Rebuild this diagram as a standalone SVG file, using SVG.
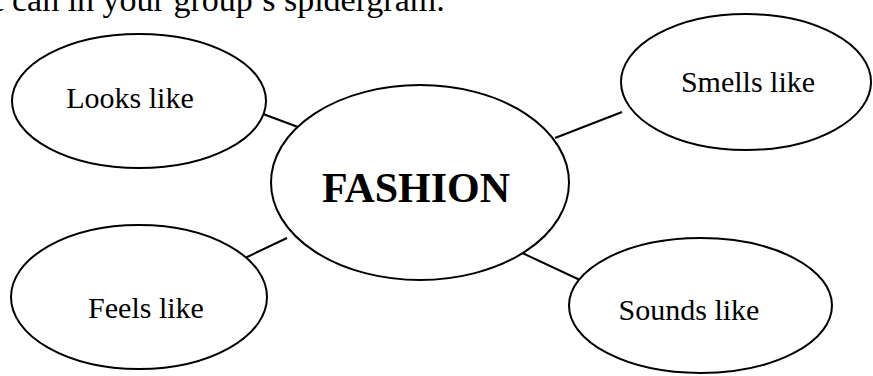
<svg xmlns="http://www.w3.org/2000/svg" width="873" height="376" viewBox="0 0 873 376">
<style>
.node ellipse{fill:#fff;stroke:#000;stroke-width:2}
.lbl{font-family:"Liberation Serif","Times New Roman",serif;font-size:30px;fill:#000;text-anchor:middle}
.big{font-family:"Liberation Serif","Times New Roman",serif;font-size:42px;font-weight:bold;fill:#000;text-anchor:middle}
.top{font-family:"Liberation Serif","Times New Roman",serif;font-size:34px;fill:#000}
#connectors line{stroke:#000;stroke-width:2}
</style>
<rect width="873" height="376" fill="#fff"/>
<text class="top" x="-6" y="11">t can in your group’s spidergram.</text>
<g id="connectors">
<line x1="255" y1="111" x2="298" y2="127"/>
<line x1="555" y1="138" x2="622" y2="112"/>
<line x1="245" y1="258" x2="287" y2="238"/>
<line x1="518" y1="251" x2="580" y2="280"/>
</g>
<g id="node-looks" class="node">
<ellipse cx="139" cy="101" rx="127" ry="67"/>
<text class="lbl" x="130" y="108">Looks like</text>
</g>
<g id="node-fashion" class="node">
<ellipse cx="420" cy="182.5" rx="149" ry="97.5"/>
<text class="big" x="416" y="202">FASHION</text>
</g>
<g id="node-smells" class="node">
<ellipse cx="746" cy="82" rx="125" ry="68"/>
<text class="lbl" x="748" y="92">Smells like</text>
</g>
<g id="node-feels" class="node">
<ellipse cx="139" cy="297" rx="128" ry="72"/>
<text class="lbl" x="146" y="318">Feels like</text>
</g>
<g id="node-sounds" class="node">
<ellipse cx="700.5" cy="305.5" rx="131.5" ry="67.5"/>
<text class="lbl" x="689" y="320">Sounds like</text>
</g>
</svg>
